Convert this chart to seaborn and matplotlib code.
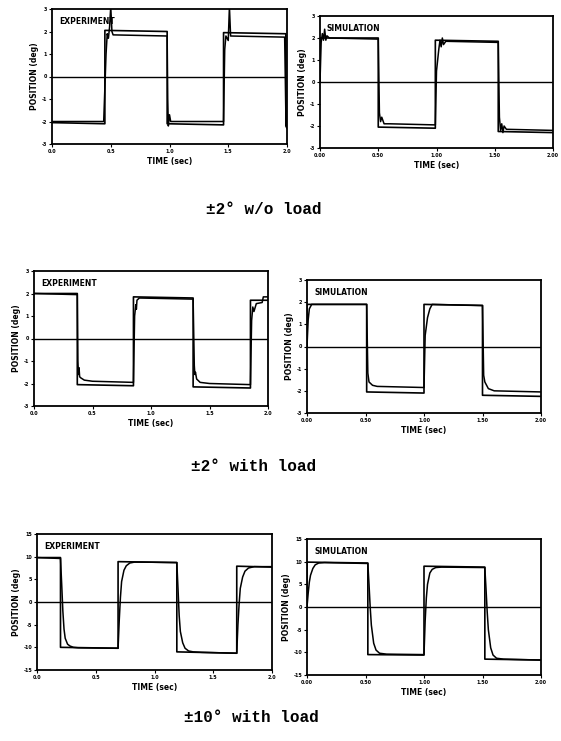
import pandas as pd
import seaborn as sns
import matplotlib

matplotlib.use("Agg")
import matplotlib.pyplot as plt

# ---- data ----
# command (square wave) vertices and measured/simulated response points, per panel

# +-2 deg w/o load, experiment
exp1_cmd_t = [0, 0.45, 0.45, 0.98, 0.98, 1.46, 1.46, 1.99, 1.99, 2.0]
exp1_cmd_y = [-2.05, -2.1, 2.05, 2.0, -2.1, -2.15, 1.95, 1.9, -2.2, -2.3]
exp1_resp_t = [0, 0.44, 0.46, 0.47, 0.48, 0.49, 0.5, 0.51, 0.52, 0.98, 0.985,
               0.99, 1.0, 1.01, 1.46, 1.47, 1.48, 1.5, 1.51, 1.52, 1.98, 1.99, 2.0]
exp1_resp_y = [-2.0, -2.0, 1.0, 1.9, 1.7, 2.2, 3.1, 2.0, 1.85, 1.8, -1.0,
               -2.2, -1.7, -2.0, -2.0, 1.2, 1.8, 1.6, 3.1, 1.8, 1.75, -1.6, -2.2]

# +-2 deg w/o load, simulation
sim1_cmd_t = [0, 0, 0.5, 0.5, 0.99, 0.99, 1.53, 1.53, 2.0]
sim1_cmd_y = [0, 2.0, 2.0, -2.05, -2.1, 1.9, 1.85, -2.25, -2.3]
sim1_resp_t = [0, 0.01, 0.02, 0.03, 0.04, 0.05, 0.06, 0.08, 0.5, 0.51, 0.52,
               0.53, 0.55, 0.6, 0.99, 1.0, 1.02, 1.03, 1.04, 1.05, 1.06, 1.08,
               1.53, 1.54, 1.55, 1.56, 1.57, 1.58, 1.6, 2.0]
sim1_resp_y = [0, 1.8, 2.2, 1.9, 2.4, 1.9, 2.1, 2.0, 1.95, -1.4, -1.8,
               -1.6, -1.9, -1.9, -1.95, 0.5, 1.5, 1.9, 1.6, 2.0, 1.7, 1.85,
               1.8, -1.6, -2.2, -1.9, -2.3, -2.0, -2.15, -2.2]

# +-2 deg with load, experiment
exp2_cmd_t = [0, 0.37, 0.37, 0.85, 0.85, 1.36, 1.36, 1.85, 1.85, 2.0]
exp2_cmd_y = [2.0, 2.0, -2.05, -2.1, 1.85, 1.8, -2.15, -2.2, 1.7, 1.7]
exp2_resp_t = [0, 0.37, 0.375, 0.38, 0.385, 0.39, 0.40, 0.43, 0.5, 0.85, 0.86,
               0.87, 0.875, 0.88, 0.9, 1.36, 1.37, 1.375, 1.38, 1.39, 1.42, 1.5,
               1.85, 1.86, 1.87, 1.88, 1.9, 1.95, 1.96, 2.0]
exp2_resp_y = [2.0, 1.95, -1.0, -1.6, -1.3, -1.7, -1.75, -1.85, -1.9, -1.95, 1.0,
               1.5, 1.3, 1.7, 1.8, 1.75, -1.2, -1.6, -1.5, -1.8, -1.95, -2.0,
               -2.05, 0.8, 1.4, 1.2, 1.55, 1.6, 1.85, 1.85]

# +-2 deg with load, simulation
sim2_cmd_t = [0, 0, 0.51, 0.51, 1.0, 1.0, 1.5, 1.5, 2.0]
sim2_cmd_y = [0, 1.9, 1.9, -2.05, -2.1, 1.9, 1.85, -2.2, -2.25]
sim2_resp_t = [0, 0.01, 0.02, 0.04, 0.51, 0.52, 0.53, 0.54, 0.56, 0.6, 1.0,
               1.01, 1.03, 1.05, 1.07, 1.5, 1.51, 1.52, 1.53, 1.55, 1.6, 2.0]
sim2_resp_y = [0, 1.2, 1.7, 1.9, 1.9, -1.2, -1.6, -1.65, -1.75, -1.8, -1.85,
               0.5, 1.3, 1.7, 1.9, 1.85, -1.3, -1.6, -1.7, -1.9, -2.0, -2.05]

# +-10 deg with load, experiment
exp3_cmd_t = [0, 0.2, 0.2, 0.69, 0.69, 1.19, 1.19, 1.70, 1.70, 2.0]
exp3_cmd_y = [9.8, 9.8, -10.0, -10.2, 8.9, 8.7, -11.0, -11.3, 7.9, 7.7]
exp3_resp_t = [0, 0.2, 0.21, 0.22, 0.23, 0.24, 0.26, 0.28, 0.31, 0.35, 0.69,
               0.70, 0.71, 0.72, 0.74, 0.76, 0.79, 0.83, 0.9, 1.19, 1.2, 1.21,
               1.22, 1.24, 1.26, 1.29, 1.33, 1.4, 1.7, 1.71, 1.72, 1.73, 1.75,
               1.77, 1.8, 1.85, 2.0]
exp3_resp_y = [9.8, 9.6, 4.0, -2.0, -6.0, -8.0, -9.3, -9.7, -10.0, -10.1, -10.2,
               -4.0, 1.0, 4.5, 7.0, 8.0, 8.6, 8.8, 8.8, 8.7, 3.0, -3.0,
               -6.5, -9.0, -10.2, -10.8, -11.0, -11.1, -11.3, -5.0, -0.5, 3.0, 5.5,
               6.8, 7.5, 7.8, 7.8]

# +-10 deg with load, simulation
sim3_cmd_t = [0, 0, 0.52, 0.52, 1.0, 1.0, 1.52, 1.52, 2.0]
sim3_cmd_y = [0, 9.9, 9.7, -10.5, -10.6, 9.0, 8.8, -11.5, -11.7]
sim3_resp_t = [0, 0.01, 0.02, 0.03, 0.05, 0.07, 0.1, 0.15, 0.52, 0.53, 0.54,
               0.55, 0.57, 0.59, 0.62, 0.68, 1.0, 1.01, 1.02, 1.03, 1.05, 1.07,
               1.1, 1.15, 1.52, 1.53, 1.54, 1.55, 1.57, 1.59, 1.62, 1.68, 2.0]
sim3_resp_y = [0, 3, 5.5, 7, 8.5, 9.3, 9.7, 9.8, 9.6, 5, 0,
               -4, -8, -9.5, -10.2, -10.4, -10.5, -3, 2, 5, 7.5, 8.3,
               8.7, 8.8, 8.7, 4, -1, -5, -9, -10.6, -11.3, -11.5, -11.7]

xticks = [0.0, 0.5, 1.0, 1.5, 2.0]
exp_xlabels = ["0.0", "0.5", "1.0", "1.5", "2.0"]
sim_xlabels = ["0.00", "0.50", "1.00", "1.50", "2.00"]
small_yticks = [-3, -2, -1, 0, 1, 2, 3]
big_yticks = [-15, -10, -5, 0, 5, 10, 15]

captions = ["\u00b12\u00b0 w/o load", "\u00b12\u00b0 with load", "\u00b110\u00b0 with load"]

sns.set_style("ticks")
plt.rcParams["font.family"] = ["DejaVu Sans"]
plt.rcParams["text.color"] = "black"
plt.rcParams["axes.labelcolor"] = "black"
plt.rcParams["xtick.color"] = "black"
plt.rcParams["ytick.color"] = "black"


def draw_panel(ax, cmd_t, cmd_y, resp_t, resp_y, yticks, xlabels, title):
    cmd = pd.DataFrame({"t": cmd_t, "y": cmd_y})
    resp = pd.DataFrame({"t": resp_t, "y": resp_y})
    sns.lineplot(data=cmd, x="t", y="y", sort=False, estimator=None,
                 color="black", linewidth=1.2, ax=ax)
    sns.lineplot(data=resp, x="t", y="y", sort=False, estimator=None,
                 color="black", linewidth=1.1, ax=ax)
    ax.axhline(0, color="black", linewidth=1.0)
    ax.set_xlim(0, 2.0)
    ax.set_ylim(yticks[0], yticks[-1])
    ax.set_xticks(xticks)
    ax.set_xticklabels(xlabels, fontweight="bold")
    ax.set_yticks(yticks)
    ax.set_yticklabels([str(v) for v in yticks], fontweight="bold")
    ax.tick_params(labelsize=3.5, length=2, width=0.8, pad=1.5,
                   direction="out")
    for s in ax.spines.values():
        s.set_linewidth(1.3)
        s.set_color("black")
    ax.set_xlabel("TIME (sec)", fontsize=5.5, fontweight="bold", labelpad=2)
    ax.set_ylabel("POSITION (deg)", fontsize=5.5, fontweight="bold", labelpad=2)
    ax.text(0.03, 0.94, title, transform=ax.transAxes, fontsize=5.5,
            ha="left", va="top", fontweight="bold")


W, H = 561, 741
fig = plt.figure(figsize=(W / 100, H / 100), dpi=100)


def make_axes(x0, x1, y0, y1):
    return fig.add_axes([x0 / W, 1 - y1 / H, (x1 - x0) / W, (y1 - y0) / H])


ax1 = make_axes(52, 287, 9, 144)
ax2 = make_axes(320, 553, 16, 148)
ax3 = make_axes(34, 268, 271, 406)
ax4 = make_axes(307, 541, 280, 413)
ax5 = make_axes(37, 272, 534, 670)
ax6 = make_axes(307, 541, 539, 675)

draw_panel(ax1, exp1_cmd_t, exp1_cmd_y, exp1_resp_t, exp1_resp_y,
           small_yticks, exp_xlabels, "EXPERIMENT")
draw_panel(ax2, sim1_cmd_t, sim1_cmd_y, sim1_resp_t, sim1_resp_y,
           small_yticks, sim_xlabels, "SIMULATION")
draw_panel(ax3, exp2_cmd_t, exp2_cmd_y, exp2_resp_t, exp2_resp_y,
           small_yticks, exp_xlabels, "EXPERIMENT")
draw_panel(ax4, sim2_cmd_t, sim2_cmd_y, sim2_resp_t, sim2_resp_y,
           small_yticks, sim_xlabels, "SIMULATION")
draw_panel(ax5, exp3_cmd_t, exp3_cmd_y, exp3_resp_t, exp3_resp_y,
           big_yticks, exp_xlabels, "EXPERIMENT")
draw_panel(ax6, sim3_cmd_t, sim3_cmd_y, sim3_resp_t, sim3_resp_y,
           big_yticks, sim_xlabels, "SIMULATION")

# captions under each row
for (cx, cy), cap in zip([(264, 210), (254, 466), (251, 718)], captions):
    fig.text(cx / W, 1 - cy / H, cap, ha="center", va="center",
             fontsize=11.5, fontweight="bold", color="black",
             family=["Liberation Mono", "DejaVu Sans Mono"])

fig.savefig("out.png", dpi=100, facecolor="white")
